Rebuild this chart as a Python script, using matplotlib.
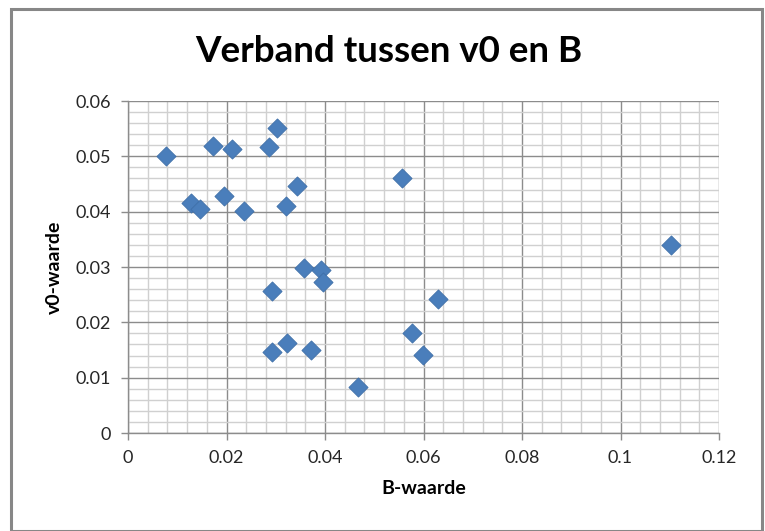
import matplotlib.pyplot as plt
from matplotlib.patches import Rectangle
from matplotlib.ticker import MultipleLocator

# B-waarde (x) en v0-waarde (y)
b_waarde = [0.0077, 0.0128, 0.0146, 0.0173, 0.0195, 0.0211, 0.0235, 0.0286,
            0.0302, 0.0321, 0.0343, 0.0292, 0.0292, 0.0323, 0.0357, 0.0392,
            0.0396, 0.0371, 0.0467, 0.0556, 0.0577, 0.0599, 0.0629, 0.1102]
v0_waarde = [0.0501, 0.0416, 0.0404, 0.0519, 0.0428, 0.0513, 0.0402, 0.0517,
             0.0551, 0.0410, 0.0446, 0.0257, 0.0147, 0.0162, 0.0299, 0.0295,
             0.0272, 0.0150, 0.0084, 0.0460, 0.0181, 0.0141, 0.0242, 0.0339]

x_ticks = [0, 0.02, 0.04, 0.06, 0.08, 0.1, 0.12]
x_labels = ['0', '0.02', '0.04', '0.06', '0.08', '0.1', '0.12']
y_ticks = [0, 0.01, 0.02, 0.03, 0.04, 0.05, 0.06]
y_labels = ['0', '0.01', '0.02', '0.03', '0.04', '0.05', '0.06']

plt.rcParams['font.family'] = ['Lato', 'DejaVu Sans']

fig = plt.figure(figsize=(7.65, 5.31), dpi=100)
ax = fig.add_axes([128 / 765, 98 / 531, 591 / 765, 332 / 531])

# rand rond de hele grafiek
fig.patches.append(Rectangle((11 / 765, 0.0), 751 / 765, 522 / 531,
                             transform=fig.transFigure, fill=False,
                             edgecolor='#878787', linewidth=2.2))

ax.set_xlim(0, 0.12)
ax.set_ylim(0, 0.06)
ax.set_xticks(x_ticks)
ax.set_xticklabels(x_labels)
ax.set_yticks(y_ticks)
ax.set_yticklabels(y_labels)
ax.xaxis.set_minor_locator(MultipleLocator(0.004))
ax.yaxis.set_minor_locator(MultipleLocator(0.002))

ax.grid(which='minor', color='#d0d0d0', linewidth=1.0)
ax.grid(which='major', color='#8c8c8c', linewidth=1.0)
ax.set_axisbelow(True)

for side in ['top', 'right']:
    ax.spines[side].set_visible(False)
for side in ['left', 'bottom']:
    ax.spines[side].set_color('#8c8c8c')
    ax.spines[side].set_linewidth(1.0)

ax.tick_params(which='major', direction='out', length=5, width=1,
               color='#8c8c8c', labelsize=13, labelcolor='#262626', pad=7)
ax.tick_params(which='minor', length=0)

ax.scatter(b_waarde, v0_waarde, marker='D', s=95, color='#4a7ebb',
           edgecolors='#3f6fa8', linewidths=0.6, zorder=3, clip_on=False)

ax.set_xlabel('B-waarde', fontsize=14, fontweight='bold', labelpad=10)
ax.set_ylabel('v0-waarde', fontsize=14, fontweight='bold', labelpad=9)
fig.text(389 / 765, 1 - 52 / 531, 'Verband tussen v0 en B', ha='center',
         va='center', fontsize=26.5, fontweight='bold')

fig.savefig('out.png', dpi=100)
